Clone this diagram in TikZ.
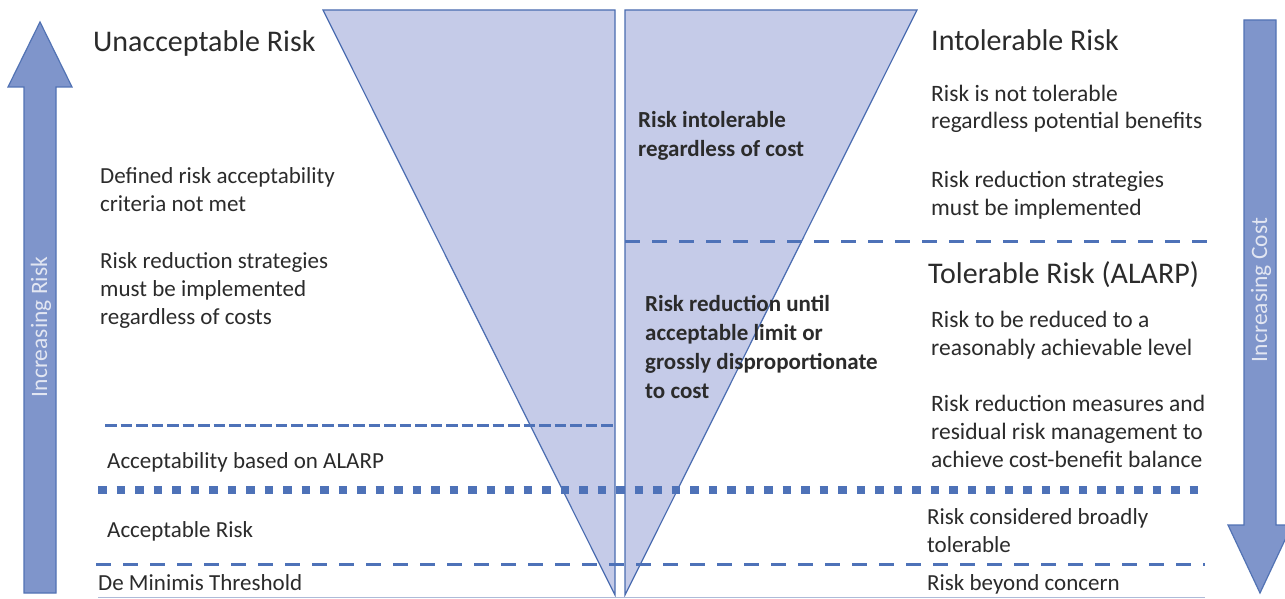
\documentclass[tikz,border=0pt]{standalone}
\usepackage{fontspec}
\setmainfont{Carlito}
\definecolor{txt}{HTML}{2B2B2B}
\definecolor{trifill}{HTML}{C5CBE8}
\definecolor{triedge}{HTML}{4A6CB0}
\definecolor{arrfill}{HTML}{7F95CB}
\definecolor{arredge}{HTML}{5273B4}
\definecolor{dashc}{HTML}{4E72B8}
\definecolor{basec}{HTML}{AEBBD8}
\definecolor{arrtxt}{HTML}{E2E6F2}
\begin{document}
\begin{tikzpicture}[x=1pt,y=-1pt,
  body/.style={anchor=base west, inner sep=0pt, align=left, text=txt, font=\fontsize{23}{28}\selectfont},
  rbody/.style={body, font=\fontsize{23.5}{28}\selectfont},
  ttl/.style={anchor=base west, inner sep=0pt, text=txt, font=\fontsize{30}{36}\selectfont},
  tri/.style={anchor=base west, inner sep=0pt, align=left, text=txt, font=\bfseries\fontsize{23}{29}\selectfont},
  arrlabel/.style={inner sep=0pt, text=arrtxt, rotate=90, font=\fontsize{23.5}{28}\selectfont},
  triangle/.style={fill=trifill, draw=triedge, line width=1.2pt, line join=miter},
  bigarrow/.style={fill=arrfill, draw=arredge, line width=1.2pt, line join=miter},
  dashA/.style={draw=dashc, line width=3pt, dash pattern=on 15pt off 12pt},
  dashB/.style={draw=dashc, line width=3pt, dash pattern=on 11.5pt off 4pt},
  squares/.style={draw=dashc, line width=8.5pt, dash pattern=on 8.5pt off 10pt}
]
\useasboundingbox (0,0) rectangle (1285,599);
\fill[white] (0,0) rectangle (1285,599);

% big arrows
\draw[bigarrow] (24,593) -- (24,87) -- (8,87) -- (40,22) -- (72,87) -- (56,87) -- (56,593) -- cycle;
\draw[bigarrow] (1244,20) -- (1244,525) -- (1228,525) -- (1260,593) -- (1292,525) -- (1276,525) -- (1276,20) -- cycle;
\node[arrlabel] (incrisk) at (41,327) {Increasing Risk};
\node[arrlabel] (inccost) at (1261,290) {Increasing Cost};

% triangles
\draw[triangle] (323,10) -- (615,10) -- (615,595) -- cycle;
\draw[triangle] (625,10) -- (917,10) -- (625,595) -- cycle;

% separator lines
\draw[dashA] (625,241) -- (1213,241);
\draw[dashB] (105,425) -- (615,425);
\draw[squares] (98,490) -- (1202,490);
\draw[dashA] (96,564) -- (1205,564);
\draw[basec, line width=1pt] (98,597) -- (1205,597);

% left texts (multi-line nodes: anchor is the baseline of the last line)
\node[ttl] (unacc) at (93,52) {Unacceptable Risk};
\node[body] (crit) at (100,211) {Defined risk acceptability\\criteria not met};
\node[body] (strat) at (100,324) {Risk reduction strategies\\must be implemented\\regardless of costs};
\node[body] (alarp) at (107,468) {Acceptability based on ALARP};
\node[body] (accrisk) at (107,537) {Acceptable Risk};
\node[body] (demin) at (98,590) {De Minimis Threshold};

% triangle texts
\node[tri] (intol) at (638,157) {Risk intolerable\\regardless of cost};
\node[tri] (reduc) at (645,398) {Risk reduction until\\acceptable limit or\\grossly disproportionate\\to cost};

% right texts
\node[ttl] (intolrisk) at (931,51) {Intolerable Risk};
\node[rbody] (nottol) at (931,129) {Risk is not tolerable\\regardless potential benefits};
\node[rbody] (mustimp) at (931,215) {Risk reduction strategies\\must be implemented};
\node[ttl] (tolrisk) at (928,283) {Tolerable Risk (ALARP)};
\node[rbody] (reduced) at (931,355) {Risk to be reduced to a\\reasonably achievable level};
\node[rbody] (measures) at (931,467) {Risk reduction measures and\\residual risk management to\\achieve cost-benefit balance};
\node[body] (broadly) at (927,552) {Risk considered broadly\\tolerable};
\node[body] (beyond) at (927,590) {Risk beyond concern};
\end{tikzpicture}
\end{document}
